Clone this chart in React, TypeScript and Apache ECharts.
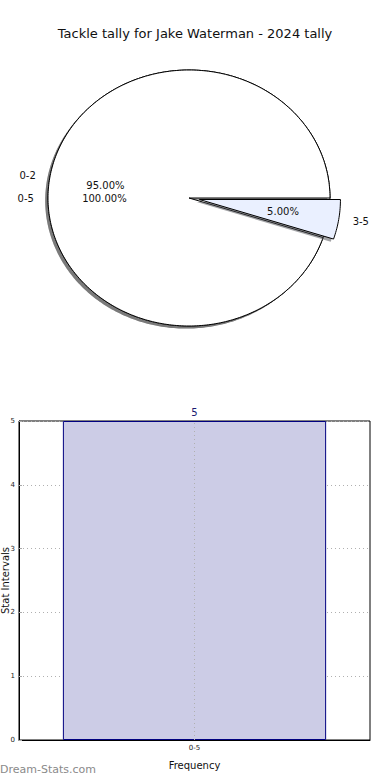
import React, { useEffect, useRef } from "react";
import * as echarts from "echarts";

const titleText = "Tackle tally for Jake Waterman - 2024 tally";
const outerLabels = ["0-5"];
const outerValues = [100];
const innerLabels = ["0-2", "3-5"];
const innerValues = [95, 5];
const innerExplode = [0, 0.075];
const barCategories = ["0-5"];
const barValues = [5];

const FONT = "DejaVu Sans, Verdana, sans-serif";
const CX = 189;
const CY = 198;
const RX = 141;
const RY = 128;

function makeRenderItem(labels: string[], values: number[], explode: number[], fills: string[], shadows: string[], base: number) {
  const total = values.reduce((a, b) => a + b, 0);
  return (params: any, api: any) => {
    const i = params.dataIndex;
    const v = api.value(0);
    let before = 0;
    for (let k = 0; k < i; k++) before += values[k];
    const frac = v / total;
    const a0 = (before / total) * Math.PI * 2;
    const a1 = ((before + v) / total) * Math.PI * 2;
    const am = (a0 + a1) / 2;
    const e = explode[i] || 0;
    const cx = CX + e * RX * Math.cos(am);
    const cy = CY - e * RY * Math.sin(am);
    const pts: number[][] = [];
    const full = frac >= 0.9999;
    if (!full) pts.push([cx, cy]);
    const n = Math.max(8, Math.ceil(((a1 - a0) * 180) / Math.PI));
    for (let k = 0; k <= n; k++) {
      const a = a0 + ((a1 - a0) * k) / n;
      pts.push([cx + RX * Math.cos(a), cy - RY * Math.sin(a)]);
    }
    const sh = pts.map((p) => [p[0] - 2.8, p[1] + 2.6]);
    const z = base + i * 3;
    const pct = (frac * 100).toFixed(2) + "%";
    const lx = cx + 1.1 * RX * Math.cos(am);
    const ly = cy - 1.1 * RY * Math.sin(am);
    const px = cx + 0.6 * RX * Math.cos(am);
    const py = cy - 0.6 * RY * Math.sin(am);
    return {
      type: "group",
      children: [
        { type: "polygon", z2: z, shape: { points: sh }, style: { fill: shadows[i], stroke: "none" } },
        { type: "polygon", z2: z + 1, shape: { points: pts }, style: { fill: fills[i], stroke: "#000", lineWidth: 1 } },
        {
          type: "text",
          z2: 100,
          style: {
            text: labels[i],
            x: lx,
            y: ly,
            fill: "#111",
            fontSize: 10,
            fontFamily: FONT,
            align: Math.cos(am) >= 0 ? "left" : "right",
            verticalAlign: "middle",
          },
        },
        {
          type: "text",
          z2: 100,
          style: {
            text: pct,
            x: px,
            y: py,
            fill: "#111",
            fontSize: 10,
            fontFamily: FONT,
            align: "center",
            verticalAlign: "middle",
          },
        },
      ],
    };
  };
}

export default function App() {
  const ref = useRef<HTMLDivElement>(null);
  useEffect(() => {
    if (!ref.current) return;
    const chart = echarts.init(ref.current, undefined, { renderer: "svg" });
    const option: any = {
      animation: false,
      backgroundColor: "#fff",
      textStyle: { fontFamily: FONT },
      title: {
        text: titleText,
        left: "center",
        top: 22,
        textStyle: { fontSize: 13, fontWeight: "normal", color: "#111", fontFamily: FONT },
      },
      grid: {
        left: 19,
        right: 20,
        top: 421,
        bottom: 40,
        containLabel: false,
        outerBoundsMode: "none",
        show: true,
        borderColor: "#000",
        borderWidth: 1,
        backgroundColor: "transparent",
      },
      xAxis: {
        type: "category",
        data: barCategories,
        name: "Frequency",
        nameLocation: "middle",
        nameGap: 20,
        nameMoveOverlap: false,
        nameTextStyle: { fontSize: 10, color: "#111", fontFamily: FONT },
        axisLine: { lineStyle: { color: "#000" } },
        axisTick: { show: false },
        axisLabel: { fontSize: 7, color: "#222", margin: 4, fontFamily: FONT },
        splitLine: { show: false },
      },
      yAxis: {
        type: "value",
        min: 0,
        max: 5,
        interval: 1,
        name: "Stat Intervals",
        nameLocation: "middle",
        nameRotate: 90,
        nameGap: 9,
        nameMoveOverlap: false,
        nameTextStyle: { fontSize: 10, color: "#111", fontFamily: FONT },
        axisLine: { show: true, lineStyle: { color: "#000" } },
        axisTick: { show: true, inside: true, length: 3, lineStyle: { color: "#aaa" } },
        axisLabel: { fontSize: 7, color: "#222", margin: 4, fontFamily: FONT },
        splitLine: { show: true, lineStyle: { color: "#b0b0b0", type: [1, 3], width: 1 } },
      },
      series: [
        {
          type: "custom",
          coordinateSystem: "none",
          data: outerValues,
          renderItem: makeRenderItem(outerLabels, outerValues, [0], ["#ffffff"], ["rgba(77,77,77,0.5)"], 0),
          silent: true,
        },
        {
          type: "custom",
          coordinateSystem: "none",
          data: innerValues,
          renderItem: makeRenderItem(
            innerLabels,
            innerValues,
            innerExplode,
            ["#ffffff", "#eaf0ff"],
            ["rgba(77,77,77,0.5)", "rgba(70,72,77,0.5)"],
            10
          ),
          silent: true,
        },
        {
          type: "bar",
          data: barValues,
          barWidth: "75%",
          itemStyle: { color: "#ccccE6", borderColor: "#000080", borderWidth: 1 },
          label: { show: true, position: "top", distance: 4, fontSize: 10, color: "#1a1a70", fontFamily: FONT },
          markLine: {
            silent: true,
            symbol: "none",
            label: { show: false },
            lineStyle: { color: "#b0b0b0", type: [1, 3], width: 1 },
            data: [{ xAxis: barCategories[0] }],
          },
        },
      ],
      graphic: [
        {
          type: "text",
          left: 0,
          top: 764,
          style: { text: "Dream-Stats.com", fontSize: 11, fontWeight: "normal", fill: "#8a8a8a", fontFamily: FONT },
        },
      ],
    };
    chart.setOption(option);
    return () => chart.dispose();
  }, []);
  return <div ref={ref} style={{ position: "fixed", left: 0, top: 0, width: 390, height: 780 }} />;
}
